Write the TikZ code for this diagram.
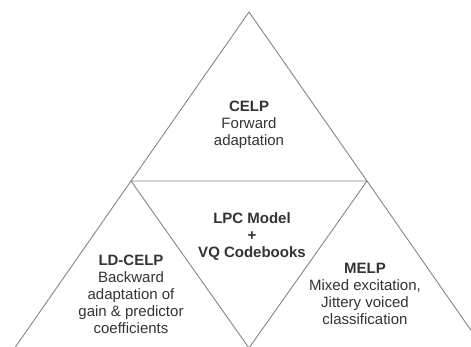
\documentclass[tikz,border=0pt]{standalone}
\usepackage{fontspec}
\setmainfont{Liberation Sans}
\definecolor{edge}{HTML}{858585}
\definecolor{txt}{HTML}{333333}
\begin{document}
\begin{tikzpicture}[x=1pt,y=-1pt,
  edgeline/.style={draw=edge,line width=0.9pt},
  lbl/.style={align=center,inner sep=0pt,text=txt,font=\fontsize{15}{17}\selectfont}]
\useasboundingbox (0,0) rectangle (471,347);
\clip (0,0) rectangle (471,347);
\coordinate (apex) at (249,12);
\coordinate (lmid) at (131,181);
\coordinate (rmid) at (367,181);
\coordinate (bmid) at (249,348);
\coordinate (bl) at (14,349);
\coordinate (br) at (484,349);
\draw[edgeline] (bl) -- (lmid) -- (apex) -- (rmid) -- (br);
\draw[edgeline] (lmid) -- (rmid) -- (bmid) -- cycle;
\node[lbl] (celp) at (249,125) {\textbf{CELP}\\Forward\\adaptation};
\node[lbl] (lpc) at (252,237) {\textbf{LPC Model}\\\textbf{+}\\\textbf{VQ Codebooks}};
\node[lbl] (ldcelp) at (131,294) {\textbf{LD-CELP}\\Backward\\adaptation of\\gain \& predictor\\coefficients};
\node[lbl] (melp) at (365,294) {\textbf{MELP}\\Mixed excitation,\\Jittery voiced\\classification};
\end{tikzpicture}
\end{document}
